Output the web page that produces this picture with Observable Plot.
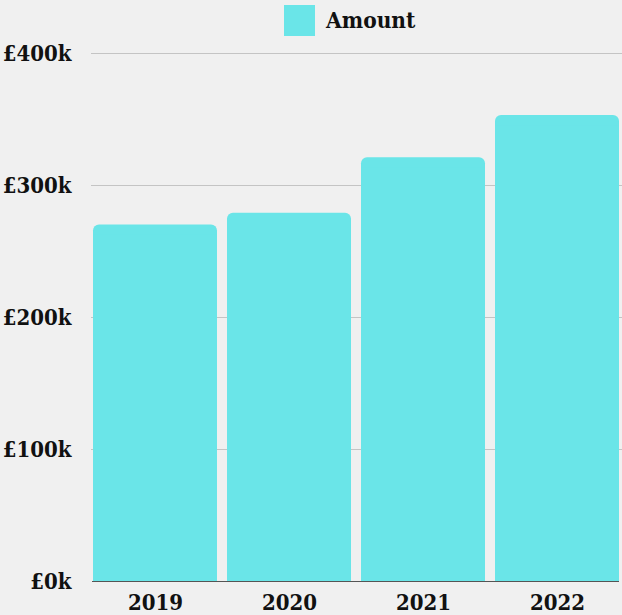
<!DOCTYPE html>
<html>
<head>
<meta charset="utf-8">
<script src="https://cdn.jsdelivr.net/npm/d3@7"></script>
<script src="https://cdn.jsdelivr.net/npm/@observablehq/plot@0.6"></script>
<style>
  html, body { margin: 0; padding: 0; background: #f0f0f0; }
  body { width: 622px; height: 615px; overflow: hidden; position: relative;
         font-family: "DejaVu Serif Condensed", "DejaVu Serif", serif; font-weight: bold; font-stretch: condensed; }
  #legend { position: absolute; left: 284px; top: 4px; height: 32px; display: flex; align-items: center; gap: 11px; font-size: 22.5px; color: #111; }
  #legend .sw { width: 31px; height: 31px; background: #6ae5e8; }
  #chart { position: absolute; left: 0; top: 40px; }
</style>
</head>
<body>
<div id="legend"><div class="sw"></div><span>Amount</span></div>
<div id="chart"></div>
<script>
const years = ["2019", "2020", "2021", "2022"];
const amounts = [270000, 279000, 321000, 353000];
const yTicks = [0, 100000, 200000, 300000, 400000];
const seriesName = "Amount";

const data = years.map((year, i) => ({year, amount: amounts[i]}));
const font = "'DejaVu Serif Condensed', 'DejaVu Serif', serif";

const chart = Plot.plot({
  width: 622,
  height: 575,
  marginTop: 13,
  marginBottom: 34,
  marginLeft: 92,
  marginRight: 3,
  style: {background: "transparent", color: "#111", fontFamily: font},
  x: {domain: years, paddingInner: 0.078, paddingOuter: 0, label: null},
  y: {domain: [0, 400000], label: null},
  marks: [
    Plot.ruleY(yTicks.slice(1), {stroke: "#c4c4c4", strokeWidth: 1, insetLeft: -1, insetRight: -3}),
    Plot.ruleY([0], {stroke: "#555", strokeWidth: 1.2}),
    Plot.barY(data, {x: "year", y: "amount", fill: "#6ae5e8", rx: 6}),
    Plot.barY(data, {x: "year", y: "amount", fill: "#6ae5e8", insetTop: 10}),
    Plot.axisY({ticks: yTicks, tickSize: 0, tickPadding: 21, tickFormat: d => "£" + d / 1000 + "k",
      fontSize: 22, fontWeight: "bold", fontFamily: font, fill: "#111"}),
    Plot.axisX({tickSize: 0, tickPadding: 13, fontSize: 22, fontWeight: "bold", fontFamily: font, fill: "#111"})
  ]
});
document.getElementById("chart").appendChild(chart);
</script>
</body>
</html>
